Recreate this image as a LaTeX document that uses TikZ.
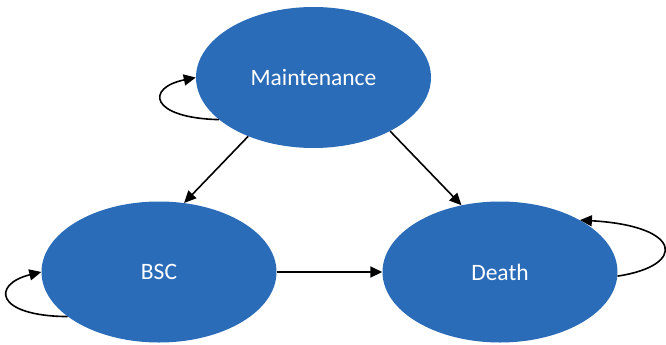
\documentclass[tikz,border=0pt]{standalone}
\usepackage{fontspec}
\setmainfont{Carlito}
\usetikzlibrary{shapes.geometric,arrows.meta}
\definecolor{stateblue}{RGB}{43,108,184}
\tikzset{
  state/.style={ellipse, fill=stateblue, draw=none, minimum width=235pt, minimum height=141pt, inner sep=0pt,
    text=white, font=\fontsize{23.5}{28}\selectfont},
  conn/.style={line width=1.6pt, -{Triangle[length=12pt,width=11pt]}}
}
\begin{document}
\begin{tikzpicture}[x=1pt,y=-1pt]
\useasboundingbox (0,0) rectangle (666,345);
\node[state] (M) at (313.5,77.5) {Maintenance};
\node[state] (B) at (159,272) {BSC};
\node[state] (D) at (500,272) {Death};
\draw[conn] (M.222) -- (B.70);
\draw[conn] (M.325) -- (D.120);
\draw[conn] (B.east) -- (D.west);
\draw[conn] (M.204) .. controls (150,118) and (145,88) .. (M.west);
\draw[conn] (B.206) .. controls (-6,316) and (-8,284) .. (B.west);
\draw[conn] (D.358) .. controls (686,266) and (684,226) .. (D.33);
\end{tikzpicture}
\end{document}
